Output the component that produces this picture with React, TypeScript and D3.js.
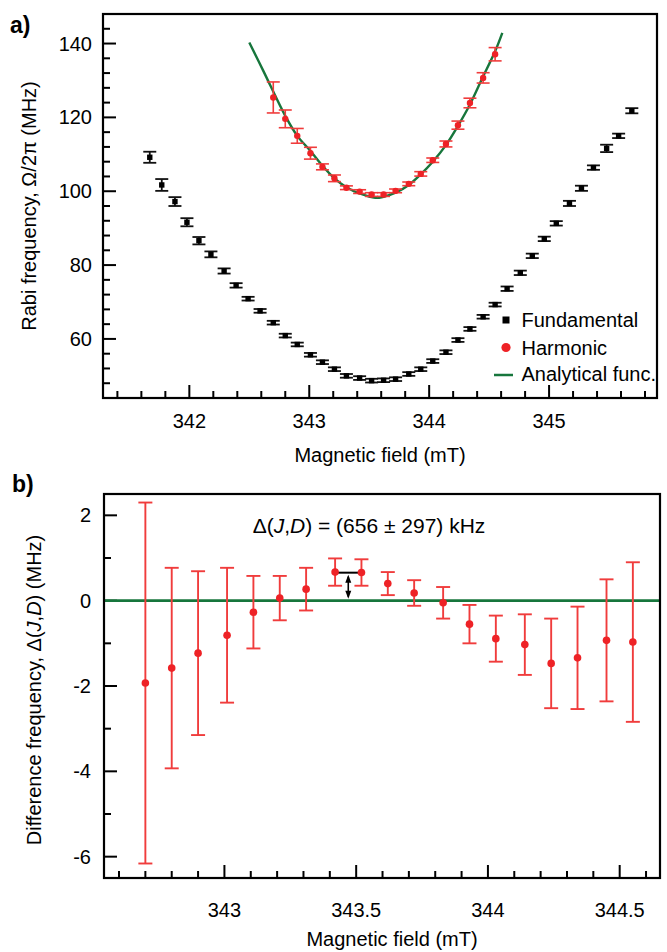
import React from 'react';
import * as d3 from 'd3';

// ---------- data ----------
// Panel a: Rabi frequency vs magnetic field
const fundField = [341.67, 341.77, 341.88, 341.98, 342.08, 342.18, 342.29, 342.39, 342.49, 342.59, 342.7, 342.8, 342.9, 343.01, 343.11, 343.21, 343.31, 343.42, 343.52, 343.62, 343.72, 343.83, 343.93, 344.03, 344.14, 344.24, 344.34, 344.45, 344.55, 344.65, 344.76, 344.86, 344.96, 345.06, 345.17, 345.27, 345.37, 345.48, 345.58, 345.69];
const fundRabi = [109.2, 101.7, 97.2, 91.6, 86.6, 82.9, 78.4, 74.5, 70.9, 67.6, 64.4, 60.9, 58.5, 55.7, 53.7, 51.8, 50.0, 49.4, 48.7, 48.8, 49.1, 50.5, 51.8, 54.0, 56.4, 59.7, 62.7, 66.0, 69.3, 73.6, 77.9, 82.5, 87.1, 91.3, 96.7, 100.8, 106.4, 111.6, 115.0, 121.8];
const fundErr = [1.5, 1.6, 1.2, 1.1, 1.0, 0.8, 0.7, 0.6, 0.5, 0.5, 0.5, 0.5, 0.5, 0.5, 0.5, 0.5, 0.5, 0.5, 0.5, 0.5, 0.5, 0.5, 0.5, 0.5, 0.5, 0.5, 0.5, 0.5, 0.5, 0.6, 0.6, 0.6, 0.6, 0.6, 0.7, 0.7, 0.6, 1.0, 0.6, 0.7];

const harmField = [342.7, 342.8, 342.9, 343.01, 343.11, 343.21, 343.31, 343.42, 343.52, 343.62, 343.72, 343.83, 343.93, 344.03, 344.14, 344.24, 344.34, 344.45, 344.55];
const harmRabi = [125.4, 119.6, 115.0, 110.3, 106.6, 103.5, 100.95, 99.9, 99.1, 99.1, 100.1, 102.0, 104.7, 108.4, 112.8, 117.9, 123.9, 130.7, 137.1];
const harmErr = [4.2, 2.4, 2.0, 1.6, 0.8, 0.9, 0.5, 0.5, 0.5, 0.5, 0.5, 0.5, 0.6, 0.6, 0.8, 1.1, 1.3, 1.4, 1.8];

// Analytical function, sampled along the curve
const fitField = [342.5, 342.62, 342.8, 342.9, 343.01, 343.11, 343.21, 343.31, 343.42, 343.55, 343.62, 343.72, 343.83, 343.93, 344.03, 344.14, 344.24, 344.34, 344.44, 344.55, 344.61];
const fitRabi = [140.3, 132.4, 120.4, 115.0, 110.9, 106.9, 103.5, 101.1, 99.4, 98.2, 98.5, 99.6, 101.7, 104.6, 108.0, 112.5, 117.7, 123.5, 130.4, 137.9, 142.9];

// Panel b: difference frequency
const diffField = [342.7, 342.8, 342.9, 343.01, 343.11, 343.21, 343.31, 343.42, 343.52, 343.62, 343.72, 343.83, 343.93, 344.03, 344.14, 344.24, 344.34, 344.45, 344.55];
const diffVal = [-1.93, -1.58, -1.23, -0.81, -0.27, 0.06, 0.27, 0.67, 0.66, 0.4, 0.18, -0.05, -0.55, -0.89, -1.03, -1.47, -1.34, -0.93, -0.97];
const diffErr = [4.23, 2.35, 1.92, 1.58, 0.85, 0.52, 0.5, 0.32, 0.31, 0.27, 0.3, 0.37, 0.45, 0.54, 0.71, 1.05, 1.2, 1.43, 1.87];
const deltaJD = 0.656; // MHz

// tick labels
const aXTicks = [342, 343, 344, 345];
const aYTicks = [60, 80, 100, 120, 140];
const bXTicks = [343, 343.5, 344, 344.5];
const bYTicks = [-6, -4, -2, 0, 2];

const legendItems = ['Fundamental', 'Harmonic', 'Analytical func.'];

// ---------- styling ----------
const FONT = '"Liberation Sans", Arial, Helvetica, sans-serif';
const RED = '#ee2226';
const RED_BAR = '#f03c3c';
const GREEN = '#17763c';
const FS = 20;

type Frame = { x0: number; x1: number; y0: number; y1: number };

function Frame({ f }: { f: Frame }) {
  return (
    <rect x={f.x0} y={f.y0} width={f.x1 - f.x0} height={f.y1 - f.y0} fill="none" stroke="#000" strokeWidth={2.2} />
  );
}

export default function App() {
  // panel a scales
  const fa: Frame = { x0: 103, x1: 657, y0: 14, y1: 398 };
  const xA = d3.scaleLinear().domain([341.28, 345.9]).range([fa.x0, fa.x1]);
  const yA = d3.scaleLinear().domain([44, 148]).range([fa.y1, fa.y0]);

  // panel b scales
  const fb: Frame = { x0: 104, x1: 660, y0: 494, y1: 878 };
  const xB = d3.scaleLinear().domain([342.543, 344.653]).range([fb.x0, fb.x1]);
  const yB = d3.scaleLinear().domain([-6.5, 2.5]).range([fb.y1, fb.y0]);

  const aXMinor = d3.range(341.4, 345.85, 0.2);
  const aYMinor = d3.range(48, 147, 4);
  const bXMinor = d3.range(342.6, 344.65, 0.1);
  const bYMinor = d3.range(-6, 2.5, 1);

  const near = (v: number, arr: number[]) => arr.some((t) => Math.abs(t - v) < 1e-6);

  const fitLine = d3
    .line<number>()
    .x((_, i) => xA(fitField[i]))
    .y((d) => yA(d))
    .curve(d3.curveCatmullRom.alpha(0.5));

  const MAJ = 13;
  const MIN = 7;

  const arrowX = (xB(diffField[7]) + xB(diffField[8])) / 2;
  const yTop = yB(deltaJD);
  const yZero = yB(0);

  return (
    <svg
      width={667}
      height={952}
      viewBox="0 0 667 952"
      style={{ position: 'absolute', left: 0, top: 0, background: '#fff' }}
      fontFamily={FONT}
    >
      <rect x={0} y={0} width={667} height={952} fill="#fff" />
      <defs>
        <clipPath id="clipA">
          <rect x={fa.x0} y={fa.y0} width={fa.x1 - fa.x0} height={fa.y1 - fa.y0} />
        </clipPath>
        <clipPath id="clipB">
          <rect x={fb.x0} y={fb.y0} width={fb.x1 - fb.x0} height={fb.y1 - fb.y0} />
        </clipPath>
      </defs>

      {/* ================= panel a ================= */}
      <text x={10} y={33} fontSize={23} fontWeight="bold">a)</text>

      {/* ticks */}
      <g stroke="#000" strokeWidth={2}>
        {aXMinor.map((v) => {
          const major = near(v, aXTicks);
          return <line key={'ax' + v} x1={xA(v)} x2={xA(v)} y1={fa.y1} y2={fa.y1 - (major ? MAJ : MIN)} />;
        })}
        {aYMinor.map((v) => {
          const major = near(v, aYTicks);
          return <line key={'ay' + v} x1={fa.x0} x2={fa.x0 + (major ? MAJ : MIN)} y1={yA(v)} y2={yA(v)} />;
        })}
      </g>
      {aXTicks.map((v) => (
        <text key={'axl' + v} x={xA(v)} y={428} fontSize={FS} textAnchor="middle">{v}</text>
      ))}
      {aYTicks.map((v) => (
        <text key={'ayl' + v} x={92} y={yA(v) + 7} fontSize={FS} textAnchor="end">{v}</text>
      ))}
      <text x={(fa.x0 + fa.x1) / 2} y={462} fontSize={FS} textAnchor="middle">Magnetic field (mT)</text>
      <text transform={`translate(36, ${(fa.y0 + fa.y1) / 2}) rotate(-90)`} fontSize={FS} textAnchor="middle">
        Rabi frequency, Ω/2π (MHz)
      </text>

      {/* fundamental */}
      <g clipPath="url(#clipA)">
        {fundField.map((b, i) => {
          const x = xA(b);
          const yt = yA(fundRabi[i] + fundErr[i]);
          const yb = yA(fundRabi[i] - fundErr[i]);
          return (
            <g key={'f' + i} stroke="#111" strokeWidth={1.8}>
              <line x1={x} x2={x} y1={yt} y2={yb} />
              <line x1={x - 6.5} x2={x + 6.5} y1={yt} y2={yt} />
              <line x1={x - 6.5} x2={x + 6.5} y1={yb} y2={yb} />
            </g>
          );
        })}
        {fundField.map((b, i) => (
          <rect key={'fs' + i} x={xA(b) - 2.7} y={yA(fundRabi[i]) - 2.7} width={5.4} height={5.4} fill="#000" />
        ))}

        {/* analytical function */}
        <path d={fitLine(fitRabi) || ''} fill="none" stroke={GREEN} strokeWidth={2.4} />

        {/* harmonic */}
        {harmField.map((b, i) => {
          const x = xA(b);
          const yt = yA(harmRabi[i] + harmErr[i]);
          const yb = yA(harmRabi[i] - harmErr[i]);
          return (
            <g key={'h' + i} stroke={RED_BAR} strokeWidth={1.6}>
              <line x1={x} x2={x} y1={yt} y2={yb} />
              <line x1={x - 6.5} x2={x + 6.5} y1={yt} y2={yt} />
              <line x1={x - 6.5} x2={x + 6.5} y1={yb} y2={yb} />
            </g>
          );
        })}
        {harmField.map((b, i) => (
          <circle key={'hc' + i} cx={xA(b)} cy={yA(harmRabi[i])} r={3.2} fill={RED} />
        ))}
      </g>

      {/* legend */}
      <g fontSize={FS}>
        <rect x={506 - 3.5} y={320 - 3.5} width={7} height={7} fill="#000" />
        <circle cx={506} cy={347.5} r={4.6} fill={RED} />
        <line x1={494} x2={513} y1={375} y2={375} stroke={GREEN} strokeWidth={2.5} />
        {legendItems.map((t, i) => (
          <text key={t} x={521.5} y={[327, 355, 381][i]}>{t}</text>
        ))}
      </g>

      <Frame f={fa} />

      {/* ================= panel b ================= */}
      <text x={12} y={492} fontSize={23} fontWeight="bold">b)</text>

      <g stroke="#000" strokeWidth={2}>
        {bXMinor.map((v) => {
          const major = near(v, bXTicks);
          return <line key={'bx' + v} x1={xB(v)} x2={xB(v)} y1={fb.y1} y2={fb.y1 - (major ? MAJ : MIN)} />;
        })}
        {bYMinor.map((v) => {
          const major = near(v, bYTicks);
          return <line key={'by' + v} x1={fb.x0} x2={fb.x0 + (major ? MAJ : MIN)} y1={yB(v)} y2={yB(v)} />;
        })}
      </g>
      {bXTicks.map((v) => (
        <text key={'bxl' + v} x={xB(v)} y={917} fontSize={FS} textAnchor="middle">{v}</text>
      ))}
      {bYTicks.map((v) => (
        <text key={'byl' + v} x={91} y={yB(v) + 7} fontSize={FS} textAnchor="end">{v}</text>
      ))}
      <text x={392} y={946} fontSize={FS} textAnchor="middle">Magnetic field (mT)</text>
      <text transform={`translate(41, ${(fb.y0 + fb.y1) / 2 + 4}) rotate(-90)`} fontSize={FS} textAnchor="middle">
        Difference frequency, Δ(<tspan fontStyle="italic">J</tspan>,<tspan fontStyle="italic">D</tspan>) (MHz)
      </text>

      <g clipPath="url(#clipB)">
        <line x1={fb.x0} x2={fb.x1} y1={yZero} y2={yZero} stroke={GREEN} strokeWidth={2.6} />
        {diffField.map((b, i) => {
          const x = xB(b);
          const yt = yB(diffVal[i] + diffErr[i]);
          const yb = yB(diffVal[i] - diffErr[i]);
          return (
            <g key={'d' + i} stroke={RED_BAR} strokeWidth={1.9}>
              <line x1={x} x2={x} y1={yt} y2={yb} />
              <line x1={x - 7} x2={x + 7} y1={yt} y2={yt} />
              <line x1={x - 7} x2={x + 7} y1={yb} y2={yb} />
            </g>
          );
        })}

        {/* mean offset marker */}
        <line x1={xB(diffField[7])} x2={xB(diffField[8])} y1={yTop} y2={yTop} stroke="#000" strokeWidth={2} />
        <line x1={arrowX} x2={arrowX} y1={yTop + 4} y2={yZero - 4} stroke="#000" strokeWidth={1.6} />
        <path d={`M${arrowX},${yTop + 2} l-3,8 l6,0 z`} fill="#000" />
        <path d={`M${arrowX},${yZero - 2} l-3,-8 l6,0 z`} fill="#000" />

        {diffField.map((b, i) => (
          <circle key={'dc' + i} cx={xB(b)} cy={yB(diffVal[i])} r={3.8} fill={RED} />
        ))}
      </g>

      <text x={369} y={533} fontSize={21} textAnchor="middle">
        Δ(<tspan fontStyle="italic">J</tspan>,<tspan fontStyle="italic">D</tspan>) = (656 ± 297) kHz
      </text>

      <Frame f={fb} />
    </svg>
  );
}
